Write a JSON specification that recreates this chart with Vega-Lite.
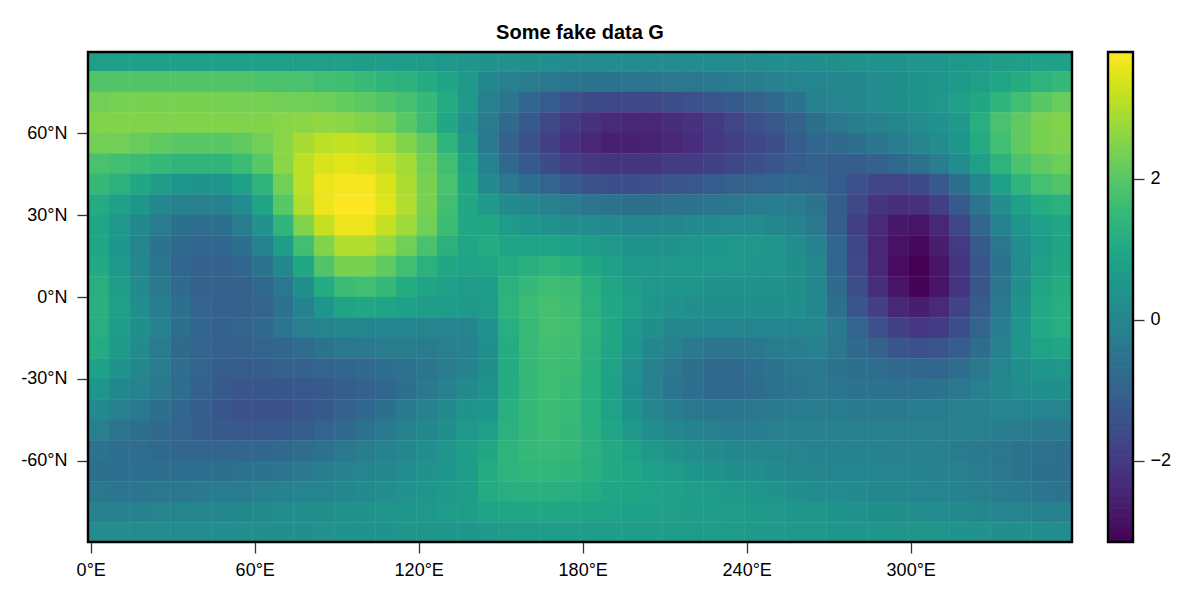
{"$schema":"https://vega.github.io/schema/vega-lite/v6.json","autosize":{"type":"pad"},"padding":{"left":20,"top":22,"right":29,"bottom":20},"background":"white","config":{"font":"Liberation Sans","view":{"stroke":null}},"spacing":32,"hconcat":[{"title":{"text":"Some fake data G","font":"Liberation Sans","fontSize":20,"fontWeight":"bold","color":"black","anchor":"middle","offset":8},"width":984,"height":490,"layer":[{"data":{"values":[
{"x":3,"y":86.25,"v":0.75},{"x":10.5,"y":86.25,"v":0.8},{"x":18,"y":86.25,"v":0.8},{"x":25.5,"y":86.25,"v":0.8},{"x":33,"y":86.25,"v":0.8},{"x":40.5,"y":86.25,"v":0.8},{"x":48,"y":86.25,"v":0.8},{"x":55.5,"y":86.25,"v":0.8},{"x":63,"y":86.25,"v":0.8},{"x":70.5,"y":86.25,"v":0.8},{"x":78,"y":86.25,"v":0.75},{"x":85.5,"y":86.25,"v":0.75},{"x":93,"y":86.25,"v":0.75},{"x":100.5,"y":86.25,"v":0.7},{"x":108,"y":86.25,"v":0.7},{"x":115.5,"y":86.25,"v":0.65},{"x":123,"y":86.25,"v":0.65},{"x":130.5,"y":86.25,"v":0.55},{"x":138,"y":86.25,"v":0.45},{"x":145.5,"y":86.25,"v":0.4},{"x":153,"y":86.25,"v":0.35},{"x":160.5,"y":86.25,"v":0.3},{"x":168,"y":86.25,"v":0.25},{"x":175.5,"y":86.25,"v":0.2},{"x":183,"y":86.25,"v":0.2},{"x":190.5,"y":86.25,"v":0.2},{"x":198,"y":86.25,"v":0.2},{"x":205.5,"y":86.25,"v":0.2},{"x":213,"y":86.25,"v":0.2},{"x":220.5,"y":86.25,"v":0.2},{"x":228,"y":86.25,"v":0.2},{"x":235.5,"y":86.25,"v":0.2},{"x":243,"y":86.25,"v":0.2},{"x":250.5,"y":86.25,"v":0.25},{"x":258,"y":86.25,"v":0.25},{"x":265.5,"y":86.25,"v":0.25},{"x":273,"y":86.25,"v":0.3},{"x":280.5,"y":86.25,"v":0.35},{"x":288,"y":86.25,"v":0.35},{"x":295.5,"y":86.25,"v":0.4},{"x":303,"y":86.25,"v":0.45},{"x":310.5,"y":86.25,"v":0.5},{"x":318,"y":86.25,"v":0.55},{"x":325.5,"y":86.25,"v":0.6},{"x":333,"y":86.25,"v":0.7},{"x":340.5,"y":86.25,"v":0.75},{"x":348,"y":86.25,"v":0.8},{"x":355.5,"y":86.25,"v":0.8},
{"x":3,"y":78.75,"v":1.9},{"x":10.5,"y":78.75,"v":1.9},{"x":18,"y":78.75,"v":1.9},{"x":25.5,"y":78.75,"v":1.9},{"x":33,"y":78.75,"v":1.9},{"x":40.5,"y":78.75,"v":1.9},{"x":48,"y":78.75,"v":1.9},{"x":55.5,"y":78.75,"v":1.9},{"x":63,"y":78.75,"v":1.85},{"x":70.5,"y":78.75,"v":1.8},{"x":78,"y":78.75,"v":1.8},{"x":85.5,"y":78.75,"v":1.7},{"x":93,"y":78.75,"v":1.65},{"x":100.5,"y":78.75,"v":1.55},{"x":108,"y":78.75,"v":1.4},{"x":115.5,"y":78.75,"v":1.3},{"x":123,"y":78.75,"v":1.1},{"x":130.5,"y":78.75,"v":0.9},{"x":138,"y":78.75,"v":0.6},{"x":145.5,"y":78.75,"v":0.1},{"x":153,"y":78.75,"v":-0.2},{"x":160.5,"y":78.75,"v":-0.3},{"x":168,"y":78.75,"v":-0.4},{"x":175.5,"y":78.75,"v":-0.45},{"x":183,"y":78.75,"v":-0.5},{"x":190.5,"y":78.75,"v":-0.5},{"x":198,"y":78.75,"v":-0.45},{"x":205.5,"y":78.75,"v":-0.45},{"x":213,"y":78.75,"v":-0.4},{"x":220.5,"y":78.75,"v":-0.4},{"x":228,"y":78.75,"v":-0.35},{"x":235.5,"y":78.75,"v":-0.3},{"x":243,"y":78.75,"v":-0.25},{"x":250.5,"y":78.75,"v":-0.15},{"x":258,"y":78.75,"v":-0.05},{"x":265.5,"y":78.75,"v":0},{"x":273,"y":78.75,"v":0.05},{"x":280.5,"y":78.75,"v":0.1},{"x":288,"y":78.75,"v":0.2},{"x":295.5,"y":78.75,"v":0.3},{"x":303,"y":78.75,"v":0.4},{"x":310.5,"y":78.75,"v":0.5},{"x":318,"y":78.75,"v":0.6},{"x":325.5,"y":78.75,"v":0.75},{"x":333,"y":78.75,"v":0.95},{"x":340.5,"y":78.75,"v":1.15},{"x":348,"y":78.75,"v":1.35},{"x":355.5,"y":78.75,"v":1.5},
{"x":3,"y":71.25,"v":2.3},{"x":10.5,"y":71.25,"v":2.35},{"x":18,"y":71.25,"v":2.4},{"x":25.5,"y":71.25,"v":2.4},{"x":33,"y":71.25,"v":2.4},{"x":40.5,"y":71.25,"v":2.4},{"x":48,"y":71.25,"v":2.35},{"x":55.5,"y":71.25,"v":2.35},{"x":63,"y":71.25,"v":2.35},{"x":70.5,"y":71.25,"v":2.3},{"x":78,"y":71.25,"v":2.3},{"x":85.5,"y":71.25,"v":2.25},{"x":93,"y":71.25,"v":2.15},{"x":100.5,"y":71.25,"v":2.05},{"x":108,"y":71.25,"v":1.9},{"x":115.5,"y":71.25,"v":1.75},{"x":123,"y":71.25,"v":1.5},{"x":130.5,"y":71.25,"v":1.1},{"x":138,"y":71.25,"v":0.6},{"x":145.5,"y":71.25,"v":-0.2},{"x":153,"y":71.25,"v":-0.45},{"x":160.5,"y":71.25,"v":-0.85},{"x":168,"y":71.25,"v":-1.15},{"x":175.5,"y":71.25,"v":-1.45},{"x":183,"y":71.25,"v":-1.6},{"x":190.5,"y":71.25,"v":-1.65},{"x":198,"y":71.25,"v":-1.65},{"x":205.5,"y":71.25,"v":-1.65},{"x":213,"y":71.25,"v":-1.55},{"x":220.5,"y":71.25,"v":-1.45},{"x":228,"y":71.25,"v":-1.35},{"x":235.5,"y":71.25,"v":-1.2},{"x":243,"y":71.25,"v":-1},{"x":250.5,"y":71.25,"v":-0.8},{"x":258,"y":71.25,"v":-0.5},{"x":265.5,"y":71.25,"v":-0.15},{"x":273,"y":71.25,"v":-0.05},{"x":280.5,"y":71.25,"v":0.05},{"x":288,"y":71.25,"v":0.2},{"x":295.5,"y":71.25,"v":0.3},{"x":303,"y":71.25,"v":0.4},{"x":310.5,"y":71.25,"v":0.55},{"x":318,"y":71.25,"v":0.75},{"x":325.5,"y":71.25,"v":1},{"x":333,"y":71.25,"v":1.4},{"x":340.5,"y":71.25,"v":1.7},{"x":348,"y":71.25,"v":2},{"x":355.5,"y":71.25,"v":2.2},
{"x":3,"y":63.75,"v":2.5},{"x":10.5,"y":63.75,"v":2.5},{"x":18,"y":63.75,"v":2.5},{"x":25.5,"y":63.75,"v":2.5},{"x":33,"y":63.75,"v":2.5},{"x":40.5,"y":63.75,"v":2.5},{"x":48,"y":63.75,"v":2.5},{"x":55.5,"y":63.75,"v":2.5},{"x":63,"y":63.75,"v":2.5},{"x":70.5,"y":63.75,"v":2.55},{"x":78,"y":63.75,"v":2.6},{"x":85.5,"y":63.75,"v":2.65},{"x":93,"y":63.75,"v":2.6},{"x":100.5,"y":63.75,"v":2.5},{"x":108,"y":63.75,"v":2.35},{"x":115.5,"y":63.75,"v":2},{"x":123,"y":63.75,"v":1.6},{"x":130.5,"y":63.75,"v":1},{"x":138,"y":63.75,"v":0.35},{"x":145.5,"y":63.75,"v":-0.3},{"x":153,"y":63.75,"v":-0.75},{"x":160.5,"y":63.75,"v":-1.2},{"x":168,"y":63.75,"v":-1.65},{"x":175.5,"y":63.75,"v":-2},{"x":183,"y":63.75,"v":-2.2},{"x":190.5,"y":63.75,"v":-2.35},{"x":198,"y":63.75,"v":-2.4},{"x":205.5,"y":63.75,"v":-2.4},{"x":213,"y":63.75,"v":-2.3},{"x":220.5,"y":63.75,"v":-2.15},{"x":228,"y":63.75,"v":-2},{"x":235.5,"y":63.75,"v":-1.75},{"x":243,"y":63.75,"v":-1.45},{"x":250.5,"y":63.75,"v":-1.25},{"x":258,"y":63.75,"v":-1},{"x":265.5,"y":63.75,"v":-0.6},{"x":273,"y":63.75,"v":-0.4},{"x":280.5,"y":63.75,"v":-0.25},{"x":288,"y":63.75,"v":-0.1},{"x":295.5,"y":63.75,"v":0.05},{"x":303,"y":63.75,"v":0.2},{"x":310.5,"y":63.75,"v":0.35},{"x":318,"y":63.75,"v":0.6},{"x":325.5,"y":63.75,"v":1.2},{"x":333,"y":63.75,"v":1.8},{"x":340.5,"y":63.75,"v":2.1},{"x":348,"y":63.75,"v":2.4},{"x":355.5,"y":63.75,"v":2.5},
{"x":3,"y":56.25,"v":2.3},{"x":10.5,"y":56.25,"v":2.3},{"x":18,"y":56.25,"v":2.2},{"x":25.5,"y":56.25,"v":2.1},{"x":33,"y":56.25,"v":2},{"x":40.5,"y":56.25,"v":2},{"x":48,"y":56.25,"v":2},{"x":55.5,"y":56.25,"v":2.1},{"x":63,"y":56.25,"v":2.3},{"x":70.5,"y":56.25,"v":2.6},{"x":78,"y":56.25,"v":2.9},{"x":85.5,"y":56.25,"v":3.1},{"x":93,"y":56.25,"v":3.2},{"x":100.5,"y":56.25,"v":3.1},{"x":108,"y":56.25,"v":2.85},{"x":115.5,"y":56.25,"v":2.5},{"x":123,"y":56.25,"v":2.1},{"x":130.5,"y":56.25,"v":1.4},{"x":138,"y":56.25,"v":0.6},{"x":145.5,"y":56.25,"v":-0.35},{"x":153,"y":56.25,"v":-1},{"x":160.5,"y":56.25,"v":-1.45},{"x":168,"y":56.25,"v":-1.85},{"x":175.5,"y":56.25,"v":-2.2},{"x":183,"y":56.25,"v":-2.4},{"x":190.5,"y":56.25,"v":-2.55},{"x":198,"y":56.25,"v":-2.55},{"x":205.5,"y":56.25,"v":-2.5},{"x":213,"y":56.25,"v":-2.4},{"x":220.5,"y":56.25,"v":-2.25},{"x":228,"y":56.25,"v":-2.05},{"x":235.5,"y":56.25,"v":-1.9},{"x":243,"y":56.25,"v":-1.7},{"x":250.5,"y":56.25,"v":-1.5},{"x":258,"y":56.25,"v":-1.15},{"x":265.5,"y":56.25,"v":-0.85},{"x":273,"y":56.25,"v":-0.75},{"x":280.5,"y":56.25,"v":-0.6},{"x":288,"y":56.25,"v":-0.45},{"x":295.5,"y":56.25,"v":-0.25},{"x":303,"y":56.25,"v":-0.05},{"x":310.5,"y":56.25,"v":0.2},{"x":318,"y":56.25,"v":0.5},{"x":325.5,"y":56.25,"v":1.1},{"x":333,"y":56.25,"v":1.7},{"x":340.5,"y":56.25,"v":2.1},{"x":348,"y":56.25,"v":2.4},{"x":355.5,"y":56.25,"v":2.45},
{"x":3,"y":48.75,"v":1.8},{"x":10.5,"y":48.75,"v":1.7},{"x":18,"y":48.75,"v":1.6},{"x":25.5,"y":48.75,"v":1.5},{"x":33,"y":48.75,"v":1.4},{"x":40.5,"y":48.75,"v":1.4},{"x":48,"y":48.75,"v":1.4},{"x":55.5,"y":48.75,"v":1.6},{"x":63,"y":48.75,"v":2},{"x":70.5,"y":48.75,"v":2.6},{"x":78,"y":48.75,"v":3.1},{"x":85.5,"y":48.75,"v":3.4},{"x":93,"y":48.75,"v":3.5},{"x":100.5,"y":48.75,"v":3.4},{"x":108,"y":48.75,"v":3.2},{"x":115.5,"y":48.75,"v":2.85},{"x":123,"y":48.75,"v":2.3},{"x":130.5,"y":48.75,"v":1.7},{"x":138,"y":48.75,"v":0.85},{"x":145.5,"y":48.75,"v":-0.1},{"x":153,"y":48.75,"v":-0.8},{"x":160.5,"y":48.75,"v":-1.2},{"x":168,"y":48.75,"v":-1.6},{"x":175.5,"y":48.75,"v":-1.9},{"x":183,"y":48.75,"v":-2.05},{"x":190.5,"y":48.75,"v":-2.1},{"x":198,"y":48.75,"v":-2.1},{"x":205.5,"y":48.75,"v":-2.1},{"x":213,"y":48.75,"v":-2},{"x":220.5,"y":48.75,"v":-1.95},{"x":228,"y":48.75,"v":-1.85},{"x":235.5,"y":48.75,"v":-1.7},{"x":243,"y":48.75,"v":-1.5},{"x":250.5,"y":48.75,"v":-1.3},{"x":258,"y":48.75,"v":-1.15},{"x":265.5,"y":48.75,"v":-1.05},{"x":273,"y":48.75,"v":-1.1},{"x":280.5,"y":48.75,"v":-1.1},{"x":288,"y":48.75,"v":-1},{"x":295.5,"y":48.75,"v":-0.8},{"x":303,"y":48.75,"v":-0.55},{"x":310.5,"y":48.75,"v":-0.25},{"x":318,"y":48.75,"v":0.2},{"x":325.5,"y":48.75,"v":0.75},{"x":333,"y":48.75,"v":1.35},{"x":340.5,"y":48.75,"v":1.85},{"x":348,"y":48.75,"v":2.1},{"x":355.5,"y":48.75,"v":2.25},
{"x":3,"y":41.25,"v":1.5},{"x":10.5,"y":41.25,"v":1.3},{"x":18,"y":41.25,"v":1},{"x":25.5,"y":41.25,"v":0.7},{"x":33,"y":41.25,"v":0.5},{"x":40.5,"y":41.25,"v":0.4},{"x":48,"y":41.25,"v":0.5},{"x":55.5,"y":41.25,"v":0.8},{"x":63,"y":41.25,"v":1.4},{"x":70.5,"y":41.25,"v":2.3},{"x":78,"y":41.25,"v":3.1},{"x":85.5,"y":41.25,"v":3.6},{"x":93,"y":41.25,"v":3.7},{"x":100.5,"y":41.25,"v":3.7},{"x":108,"y":41.25,"v":3.4},{"x":115.5,"y":41.25,"v":2.95},{"x":123,"y":41.25,"v":2.4},{"x":130.5,"y":41.25,"v":1.8},{"x":138,"y":41.25,"v":1},{"x":145.5,"y":41.25,"v":0.15},{"x":153,"y":41.25,"v":-0.35},{"x":160.5,"y":41.25,"v":-0.65},{"x":168,"y":41.25,"v":-0.95},{"x":175.5,"y":41.25,"v":-1.2},{"x":183,"y":41.25,"v":-1.4},{"x":190.5,"y":41.25,"v":-1.5},{"x":198,"y":41.25,"v":-1.5},{"x":205.5,"y":41.25,"v":-1.45},{"x":213,"y":41.25,"v":-1.35},{"x":220.5,"y":41.25,"v":-1.25},{"x":228,"y":41.25,"v":-1.15},{"x":235.5,"y":41.25,"v":-1.05},{"x":243,"y":41.25,"v":-0.95},{"x":250.5,"y":41.25,"v":-0.85},{"x":258,"y":41.25,"v":-0.8},{"x":265.5,"y":41.25,"v":-0.85},{"x":273,"y":41.25,"v":-1.15},{"x":280.5,"y":41.25,"v":-1.45},{"x":288,"y":41.25,"v":-1.7},{"x":295.5,"y":41.25,"v":-1.75},{"x":303,"y":41.25,"v":-1.6},{"x":310.5,"y":41.25,"v":-1.2},{"x":318,"y":41.25,"v":-0.6},{"x":325.5,"y":41.25,"v":0.05},{"x":333,"y":41.25,"v":0.8},{"x":340.5,"y":41.25,"v":1.4},{"x":348,"y":41.25,"v":1.75},{"x":355.5,"y":41.25,"v":1.9},
{"x":3,"y":33.75,"v":1.1},{"x":10.5,"y":33.75,"v":0.8},{"x":18,"y":33.75,"v":0.5},{"x":25.5,"y":33.75,"v":0.1},{"x":33,"y":33.75,"v":-0.1},{"x":40.5,"y":33.75,"v":-0.2},{"x":48,"y":33.75,"v":-0.1},{"x":55.5,"y":33.75,"v":0.2},{"x":63,"y":33.75,"v":0.9},{"x":70.5,"y":33.75,"v":2},{"x":78,"y":33.75,"v":3},{"x":85.5,"y":33.75,"v":3.6},{"x":93,"y":33.75,"v":3.8},{"x":100.5,"y":33.75,"v":3.8},{"x":108,"y":33.75,"v":3.5},{"x":115.5,"y":33.75,"v":3},{"x":123,"y":33.75,"v":2.4},{"x":130.5,"y":33.75,"v":1.7},{"x":138,"y":33.75,"v":1},{"x":145.5,"y":33.75,"v":0.6},{"x":153,"y":33.75,"v":0.15},{"x":160.5,"y":33.75,"v":0.05},{"x":168,"y":33.75,"v":-0.15},{"x":175.5,"y":33.75,"v":-0.3},{"x":183,"y":33.75,"v":-0.45},{"x":190.5,"y":33.75,"v":-0.55},{"x":198,"y":33.75,"v":-0.6},{"x":205.5,"y":33.75,"v":-0.6},{"x":213,"y":33.75,"v":-0.55},{"x":220.5,"y":33.75,"v":-0.5},{"x":228,"y":33.75,"v":-0.45},{"x":235.5,"y":33.75,"v":-0.4},{"x":243,"y":33.75,"v":-0.3},{"x":250.5,"y":33.75,"v":-0.25},{"x":258,"y":33.75,"v":-0.3},{"x":265.5,"y":33.75,"v":-0.5},{"x":273,"y":33.75,"v":-1.1},{"x":280.5,"y":33.75,"v":-1.65},{"x":288,"y":33.75,"v":-2.1},{"x":295.5,"y":33.75,"v":-2.25},{"x":303,"y":33.75,"v":-2.2},{"x":310.5,"y":33.75,"v":-1.85},{"x":318,"y":33.75,"v":-1.2},{"x":325.5,"y":33.75,"v":-0.45},{"x":333,"y":33.75,"v":0.25},{"x":340.5,"y":33.75,"v":0.8},{"x":348,"y":33.75,"v":1.15},{"x":355.5,"y":33.75,"v":1.3},
{"x":3,"y":26.25,"v":0.95},{"x":10.5,"y":26.25,"v":0.55},{"x":18,"y":26.25,"v":0.1},{"x":25.5,"y":26.25,"v":-0.3},{"x":33,"y":26.25,"v":-0.6},{"x":40.5,"y":26.25,"v":-0.7},{"x":48,"y":26.25,"v":-0.6},{"x":55.5,"y":26.25,"v":-0.3},{"x":63,"y":26.25,"v":0.35},{"x":70.5,"y":26.25,"v":1.4},{"x":78,"y":26.25,"v":2.5},{"x":85.5,"y":26.25,"v":3.2},{"x":93,"y":26.25,"v":3.6},{"x":100.5,"y":26.25,"v":3.6},{"x":108,"y":26.25,"v":3.2},{"x":115.5,"y":26.25,"v":2.8},{"x":123,"y":26.25,"v":2.3},{"x":130.5,"y":26.25,"v":1.6},{"x":138,"y":26.25,"v":1},{"x":145.5,"y":26.25,"v":1},{"x":153,"y":26.25,"v":0.65},{"x":160.5,"y":26.25,"v":0.5},{"x":168,"y":26.25,"v":0.35},{"x":175.5,"y":26.25,"v":0.25},{"x":183,"y":26.25,"v":0.2},{"x":190.5,"y":26.25,"v":0.15},{"x":198,"y":26.25,"v":0.1},{"x":205.5,"y":26.25,"v":0.1},{"x":213,"y":26.25,"v":0.1},{"x":220.5,"y":26.25,"v":0.15},{"x":228,"y":26.25,"v":0.15},{"x":235.5,"y":26.25,"v":0.2},{"x":243,"y":26.25,"v":0.2},{"x":250.5,"y":26.25,"v":0.1},{"x":258,"y":26.25,"v":-0.1},{"x":265.5,"y":26.25,"v":-0.35},{"x":273,"y":26.25,"v":-1.1},{"x":280.5,"y":26.25,"v":-1.85},{"x":288,"y":26.25,"v":-2.35},{"x":295.5,"y":26.25,"v":-2.7},{"x":303,"y":26.25,"v":-2.8},{"x":310.5,"y":26.25,"v":-2.4},{"x":318,"y":26.25,"v":-1.7},{"x":325.5,"y":26.25,"v":-0.9},{"x":333,"y":26.25,"v":-0.1},{"x":340.5,"y":26.25,"v":0.45},{"x":348,"y":26.25,"v":0.8},{"x":355.5,"y":26.25,"v":1},
{"x":3,"y":18.75,"v":0.95},{"x":10.5,"y":18.75,"v":0.5},{"x":18,"y":18.75,"v":0},{"x":25.5,"y":18.75,"v":-0.5},{"x":33,"y":18.75,"v":-0.8},{"x":40.5,"y":18.75,"v":-0.9},{"x":48,"y":18.75,"v":-0.85},{"x":55.5,"y":18.75,"v":-0.6},{"x":63,"y":18.75,"v":-0.1},{"x":70.5,"y":18.75,"v":0.7},{"x":78,"y":18.75,"v":1.7},{"x":85.5,"y":18.75,"v":2.5},{"x":93,"y":18.75,"v":3},{"x":100.5,"y":18.75,"v":3},{"x":108,"y":18.75,"v":2.7},{"x":115.5,"y":18.75,"v":2.3},{"x":123,"y":18.75,"v":1.8},{"x":130.5,"y":18.75,"v":1.3},{"x":138,"y":18.75,"v":0.95},{"x":145.5,"y":18.75,"v":1.1},{"x":153,"y":18.75,"v":0.9},{"x":160.5,"y":18.75,"v":0.85},{"x":168,"y":18.75,"v":0.85},{"x":175.5,"y":18.75,"v":0.8},{"x":183,"y":18.75,"v":0.65},{"x":190.5,"y":18.75,"v":0.55},{"x":198,"y":18.75,"v":0.4},{"x":205.5,"y":18.75,"v":0.4},{"x":213,"y":18.75,"v":0.4},{"x":220.5,"y":18.75,"v":0.45},{"x":228,"y":18.75,"v":0.5},{"x":235.5,"y":18.75,"v":0.55},{"x":243,"y":18.75,"v":0.55},{"x":250.5,"y":18.75,"v":0.45},{"x":258,"y":18.75,"v":0.2},{"x":265.5,"y":18.75,"v":-0.1},{"x":273,"y":18.75,"v":-0.9},{"x":280.5,"y":18.75,"v":-1.7},{"x":288,"y":18.75,"v":-2.4},{"x":295.5,"y":18.75,"v":-2.85},{"x":303,"y":18.75,"v":-3},{"x":310.5,"y":18.75,"v":-2.6},{"x":318,"y":18.75,"v":-2},{"x":325.5,"y":18.75,"v":-1.2},{"x":333,"y":18.75,"v":-0.4},{"x":340.5,"y":18.75,"v":0.25},{"x":348,"y":18.75,"v":0.65},{"x":355.5,"y":18.75,"v":0.9},
{"x":3,"y":11.25,"v":1.05},{"x":10.5,"y":11.25,"v":0.55},{"x":18,"y":11.25,"v":0.05},{"x":25.5,"y":11.25,"v":-0.45},{"x":33,"y":11.25,"v":-0.85},{"x":40.5,"y":11.25,"v":-1},{"x":48,"y":11.25,"v":-1},{"x":55.5,"y":11.25,"v":-0.85},{"x":63,"y":11.25,"v":-0.5},{"x":70.5,"y":11.25,"v":0.1},{"x":78,"y":11.25,"v":1},{"x":85.5,"y":11.25,"v":1.9},{"x":93,"y":11.25,"v":2.4},{"x":100.5,"y":11.25,"v":2.4},{"x":108,"y":11.25,"v":2.1},{"x":115.5,"y":11.25,"v":1.7},{"x":123,"y":11.25,"v":1.3},{"x":130.5,"y":11.25,"v":1},{"x":138,"y":11.25,"v":0.85},{"x":145.5,"y":11.25,"v":0.95},{"x":153,"y":11.25,"v":1.1},{"x":160.5,"y":11.25,"v":1.25},{"x":168,"y":11.25,"v":1.35},{"x":175.5,"y":11.25,"v":1.25},{"x":183,"y":11.25,"v":1},{"x":190.5,"y":11.25,"v":0.8},{"x":198,"y":11.25,"v":0.6},{"x":205.5,"y":11.25,"v":0.55},{"x":213,"y":11.25,"v":0.55},{"x":220.5,"y":11.25,"v":0.55},{"x":228,"y":11.25,"v":0.55},{"x":235.5,"y":11.25,"v":0.55},{"x":243,"y":11.25,"v":0.5},{"x":250.5,"y":11.25,"v":0.45},{"x":258,"y":11.25,"v":0.3},{"x":265.5,"y":11.25,"v":0.05},{"x":273,"y":11.25,"v":-0.85},{"x":280.5,"y":11.25,"v":-1.65},{"x":288,"y":11.25,"v":-2.4},{"x":295.5,"y":11.25,"v":-2.95},{"x":303,"y":11.25,"v":-3.15},{"x":310.5,"y":11.25,"v":-2.8},{"x":318,"y":11.25,"v":-2.1},{"x":325.5,"y":11.25,"v":-1.3},{"x":333,"y":11.25,"v":-0.5},{"x":340.5,"y":11.25,"v":0.2},{"x":348,"y":11.25,"v":0.75},{"x":355.5,"y":11.25,"v":1},
{"x":3,"y":3.75,"v":1.2},{"x":10.5,"y":3.75,"v":0.7},{"x":18,"y":3.75,"v":0.15},{"x":25.5,"y":3.75,"v":-0.35},{"x":33,"y":3.75,"v":-0.75},{"x":40.5,"y":3.75,"v":-1},{"x":48,"y":3.75,"v":-1.05},{"x":55.5,"y":3.75,"v":-1},{"x":63,"y":3.75,"v":-0.8},{"x":70.5,"y":3.75,"v":-0.4},{"x":78,"y":3.75,"v":0.3},{"x":85.5,"y":3.75,"v":1.1},{"x":93,"y":3.75,"v":1.6},{"x":100.5,"y":3.75,"v":1.7},{"x":108,"y":3.75,"v":1.5},{"x":115.5,"y":3.75,"v":1.15},{"x":123,"y":3.75,"v":0.9},{"x":130.5,"y":3.75,"v":0.75},{"x":138,"y":3.75,"v":0.65},{"x":145.5,"y":3.75,"v":0.7},{"x":153,"y":3.75,"v":1.3},{"x":160.5,"y":3.75,"v":1.5},{"x":168,"y":3.75,"v":1.65},{"x":175.5,"y":3.75,"v":1.6},{"x":183,"y":3.75,"v":1.25},{"x":190.5,"y":3.75,"v":0.95},{"x":198,"y":3.75,"v":0.7},{"x":205.5,"y":3.75,"v":0.55},{"x":213,"y":3.75,"v":0.5},{"x":220.5,"y":3.75,"v":0.45},{"x":228,"y":3.75,"v":0.4},{"x":235.5,"y":3.75,"v":0.4},{"x":243,"y":3.75,"v":0.4},{"x":250.5,"y":3.75,"v":0.4},{"x":258,"y":3.75,"v":0.3},{"x":265.5,"y":3.75,"v":0.1},{"x":273,"y":3.75,"v":-0.75},{"x":280.5,"y":3.75,"v":-1.55},{"x":288,"y":3.75,"v":-2.25},{"x":295.5,"y":3.75,"v":-2.8},{"x":303,"y":3.75,"v":-3.1},{"x":310.5,"y":3.75,"v":-2.8},{"x":318,"y":3.75,"v":-2.1},{"x":325.5,"y":3.75,"v":-1.3},{"x":333,"y":3.75,"v":-0.45},{"x":340.5,"y":3.75,"v":0.3},{"x":348,"y":3.75,"v":0.95},{"x":355.5,"y":3.75,"v":1.15},
{"x":3,"y":-3.75,"v":1.25},{"x":10.5,"y":-3.75,"v":0.75},{"x":18,"y":-3.75,"v":0.25},{"x":25.5,"y":-3.75,"v":-0.25},{"x":33,"y":-3.75,"v":-0.65},{"x":40.5,"y":-3.75,"v":-0.95},{"x":48,"y":-3.75,"v":-1.05},{"x":55.5,"y":-3.75,"v":-1.05},{"x":63,"y":-3.75,"v":-0.95},{"x":70.5,"y":-3.75,"v":-0.55},{"x":78,"y":-3.75,"v":-0.1},{"x":85.5,"y":-3.75,"v":0.5},{"x":93,"y":-3.75,"v":0.9},{"x":100.5,"y":-3.75,"v":1},{"x":108,"y":-3.75,"v":0.9},{"x":115.5,"y":-3.75,"v":0.8},{"x":123,"y":-3.75,"v":0.7},{"x":130.5,"y":-3.75,"v":0.65},{"x":138,"y":-3.75,"v":0.6},{"x":145.5,"y":-3.75,"v":0.65},{"x":153,"y":-3.75,"v":1.35},{"x":160.5,"y":-3.75,"v":1.6},{"x":168,"y":-3.75,"v":1.75},{"x":175.5,"y":-3.75,"v":1.65},{"x":183,"y":-3.75,"v":1.3},{"x":190.5,"y":-3.75,"v":1},{"x":198,"y":-3.75,"v":0.75},{"x":205.5,"y":-3.75,"v":0.5},{"x":213,"y":-3.75,"v":0.35},{"x":220.5,"y":-3.75,"v":0.3},{"x":228,"y":-3.75,"v":0.3},{"x":235.5,"y":-3.75,"v":0.3},{"x":243,"y":-3.75,"v":0.3},{"x":250.5,"y":-3.75,"v":0.3},{"x":258,"y":-3.75,"v":0.3},{"x":265.5,"y":-3.75,"v":0.1},{"x":273,"y":-3.75,"v":-0.6},{"x":280.5,"y":-3.75,"v":-1.3},{"x":288,"y":-3.75,"v":-1.9},{"x":295.5,"y":-3.75,"v":-2.4},{"x":303,"y":-3.75,"v":-2.6},{"x":310.5,"y":-3.75,"v":-2.35},{"x":318,"y":-3.75,"v":-1.8},{"x":325.5,"y":-3.75,"v":-1.15},{"x":333,"y":-3.75,"v":-0.35},{"x":340.5,"y":-3.75,"v":0.4},{"x":348,"y":-3.75,"v":1.05},{"x":355.5,"y":-3.75,"v":1.2},
{"x":3,"y":-11.25,"v":1.2},{"x":10.5,"y":-11.25,"v":0.7},{"x":18,"y":-11.25,"v":0.3},{"x":25.5,"y":-11.25,"v":-0.1},{"x":33,"y":-11.25,"v":-0.6},{"x":40.5,"y":-11.25,"v":-0.9},{"x":48,"y":-11.25,"v":-1},{"x":55.5,"y":-11.25,"v":-0.95},{"x":63,"y":-11.25,"v":-0.75},{"x":70.5,"y":-11.25,"v":-0.45},{"x":78,"y":-11.25,"v":-0.2},{"x":85.5,"y":-11.25,"v":0},{"x":93,"y":-11.25,"v":0.05},{"x":100.5,"y":-11.25,"v":0},{"x":108,"y":-11.25,"v":0},{"x":115.5,"y":-11.25,"v":0},{"x":123,"y":-11.25,"v":0},{"x":130.5,"y":-11.25,"v":-0.05},{"x":138,"y":-11.25,"v":0},{"x":145.5,"y":-11.25,"v":0.35},{"x":153,"y":-11.25,"v":1.2},{"x":160.5,"y":-11.25,"v":1.55},{"x":168,"y":-11.25,"v":1.75},{"x":175.5,"y":-11.25,"v":1.7},{"x":183,"y":-11.25,"v":1.35},{"x":190.5,"y":-11.25,"v":1},{"x":198,"y":-11.25,"v":0.6},{"x":205.5,"y":-11.25,"v":0.3},{"x":213,"y":-11.25,"v":0.1},{"x":220.5,"y":-11.25,"v":0.05},{"x":228,"y":-11.25,"v":0},{"x":235.5,"y":-11.25,"v":0},{"x":243,"y":-11.25,"v":0},{"x":250.5,"y":-11.25,"v":0},{"x":258,"y":-11.25,"v":0},{"x":265.5,"y":-11.25,"v":0.05},{"x":273,"y":-11.25,"v":-0.35},{"x":280.5,"y":-11.25,"v":-0.95},{"x":288,"y":-11.25,"v":-1.45},{"x":295.5,"y":-11.25,"v":-1.85},{"x":303,"y":-11.25,"v":-2.05},{"x":310.5,"y":-11.25,"v":-1.95},{"x":318,"y":-11.25,"v":-1.5},{"x":325.5,"y":-11.25,"v":-0.95},{"x":333,"y":-11.25,"v":-0.25},{"x":340.5,"y":-11.25,"v":0.45},{"x":348,"y":-11.25,"v":1.05},{"x":355.5,"y":-11.25,"v":1.2},
{"x":3,"y":-18.75,"v":1.1},{"x":10.5,"y":-18.75,"v":0.6},{"x":18,"y":-18.75,"v":0.15},{"x":25.5,"y":-18.75,"v":-0.3},{"x":33,"y":-18.75,"v":-0.75},{"x":40.5,"y":-18.75,"v":-0.95},{"x":48,"y":-18.75,"v":-1},{"x":55.5,"y":-18.75,"v":-1},{"x":63,"y":-18.75,"v":-0.95},{"x":70.5,"y":-18.75,"v":-0.85},{"x":78,"y":-18.75,"v":-0.7},{"x":85.5,"y":-18.75,"v":-0.5},{"x":93,"y":-18.75,"v":-0.4},{"x":100.5,"y":-18.75,"v":-0.35},{"x":108,"y":-18.75,"v":-0.3},{"x":115.5,"y":-18.75,"v":-0.3},{"x":123,"y":-18.75,"v":-0.3},{"x":130.5,"y":-18.75,"v":-0.2},{"x":138,"y":-18.75,"v":-0.1},{"x":145.5,"y":-18.75,"v":0.3},{"x":153,"y":-18.75,"v":1.15},{"x":160.5,"y":-18.75,"v":1.55},{"x":168,"y":-18.75,"v":1.7},{"x":175.5,"y":-18.75,"v":1.65},{"x":183,"y":-18.75,"v":1.3},{"x":190.5,"y":-18.75,"v":0.95},{"x":198,"y":-18.75,"v":0.5},{"x":205.5,"y":-18.75,"v":0.1},{"x":213,"y":-18.75,"v":-0.15},{"x":220.5,"y":-18.75,"v":-0.35},{"x":228,"y":-18.75,"v":-0.45},{"x":235.5,"y":-18.75,"v":-0.45},{"x":243,"y":-18.75,"v":-0.4},{"x":250.5,"y":-18.75,"v":-0.3},{"x":258,"y":-18.75,"v":-0.25},{"x":265.5,"y":-18.75,"v":-0.1},{"x":273,"y":-18.75,"v":-0.4},{"x":280.5,"y":-18.75,"v":-0.75},{"x":288,"y":-18.75,"v":-1.05},{"x":295.5,"y":-18.75,"v":-1.3},{"x":303,"y":-18.75,"v":-1.45},{"x":310.5,"y":-18.75,"v":-1.35},{"x":318,"y":-18.75,"v":-1.1},{"x":325.5,"y":-18.75,"v":-0.7},{"x":333,"y":-18.75,"v":-0.1},{"x":340.5,"y":-18.75,"v":0.45},{"x":348,"y":-18.75,"v":0.85},{"x":355.5,"y":-18.75,"v":0.95},
{"x":3,"y":-26.25,"v":0.8},{"x":10.5,"y":-26.25,"v":0.4},{"x":18,"y":-26.25,"v":0.05},{"x":25.5,"y":-26.25,"v":-0.3},{"x":33,"y":-26.25,"v":-0.7},{"x":40.5,"y":-26.25,"v":-0.95},{"x":48,"y":-26.25,"v":-1.1},{"x":55.5,"y":-26.25,"v":-1.15},{"x":63,"y":-26.25,"v":-1.1},{"x":70.5,"y":-26.25,"v":-1.05},{"x":78,"y":-26.25,"v":-1},{"x":85.5,"y":-26.25,"v":-0.95},{"x":93,"y":-26.25,"v":-0.85},{"x":100.5,"y":-26.25,"v":-0.75},{"x":108,"y":-26.25,"v":-0.65},{"x":115.5,"y":-26.25,"v":-0.55},{"x":123,"y":-26.25,"v":-0.45},{"x":130.5,"y":-26.25,"v":-0.3},{"x":138,"y":-26.25,"v":-0.1},{"x":145.5,"y":-26.25,"v":0.3},{"x":153,"y":-26.25,"v":1.1},{"x":160.5,"y":-26.25,"v":1.5},{"x":168,"y":-26.25,"v":1.65},{"x":175.5,"y":-26.25,"v":1.6},{"x":183,"y":-26.25,"v":1.25},{"x":190.5,"y":-26.25,"v":0.85},{"x":198,"y":-26.25,"v":0.35},{"x":205.5,"y":-26.25,"v":-0.1},{"x":213,"y":-26.25,"v":-0.4},{"x":220.5,"y":-26.25,"v":-0.6},{"x":228,"y":-26.25,"v":-0.75},{"x":235.5,"y":-26.25,"v":-0.75},{"x":243,"y":-26.25,"v":-0.65},{"x":250.5,"y":-26.25,"v":-0.5},{"x":258,"y":-26.25,"v":-0.4},{"x":265.5,"y":-26.25,"v":-0.35},{"x":273,"y":-26.25,"v":-0.5},{"x":280.5,"y":-26.25,"v":-0.6},{"x":288,"y":-26.25,"v":-0.7},{"x":295.5,"y":-26.25,"v":-0.8},{"x":303,"y":-26.25,"v":-0.85},{"x":310.5,"y":-26.25,"v":-0.85},{"x":318,"y":-26.25,"v":-0.7},{"x":325.5,"y":-26.25,"v":-0.35},{"x":333,"y":-26.25,"v":0},{"x":340.5,"y":-26.25,"v":0.3},{"x":348,"y":-26.25,"v":0.5},{"x":355.5,"y":-26.25,"v":0.55},
{"x":3,"y":-33.75,"v":0.5},{"x":10.5,"y":-33.75,"v":0.1},{"x":18,"y":-33.75,"v":-0.1},{"x":25.5,"y":-33.75,"v":-0.35},{"x":33,"y":-33.75,"v":-0.7},{"x":40.5,"y":-33.75,"v":-1},{"x":48,"y":-33.75,"v":-1.2},{"x":55.5,"y":-33.75,"v":-1.3},{"x":63,"y":-33.75,"v":-1.3},{"x":70.5,"y":-33.75,"v":-1.3},{"x":78,"y":-33.75,"v":-1.25},{"x":85.5,"y":-33.75,"v":-1.2},{"x":93,"y":-33.75,"v":-1.1},{"x":100.5,"y":-33.75,"v":-1},{"x":108,"y":-33.75,"v":-0.85},{"x":115.5,"y":-33.75,"v":-0.6},{"x":123,"y":-33.75,"v":-0.35},{"x":130.5,"y":-33.75,"v":-0.1},{"x":138,"y":-33.75,"v":0.15},{"x":145.5,"y":-33.75,"v":0.4},{"x":153,"y":-33.75,"v":1.15},{"x":160.5,"y":-33.75,"v":1.5},{"x":168,"y":-33.75,"v":1.65},{"x":175.5,"y":-33.75,"v":1.55},{"x":183,"y":-33.75,"v":1.25},{"x":190.5,"y":-33.75,"v":0.8},{"x":198,"y":-33.75,"v":0.3},{"x":205.5,"y":-33.75,"v":-0.15},{"x":213,"y":-33.75,"v":-0.45},{"x":220.5,"y":-33.75,"v":-0.65},{"x":228,"y":-33.75,"v":-0.8},{"x":235.5,"y":-33.75,"v":-0.8},{"x":243,"y":-33.75,"v":-0.7},{"x":250.5,"y":-33.75,"v":-0.55},{"x":258,"y":-33.75,"v":-0.45},{"x":265.5,"y":-33.75,"v":-0.4},{"x":273,"y":-33.75,"v":-0.45},{"x":280.5,"y":-33.75,"v":-0.5},{"x":288,"y":-33.75,"v":-0.55},{"x":295.5,"y":-33.75,"v":-0.55},{"x":303,"y":-33.75,"v":-0.55},{"x":310.5,"y":-33.75,"v":-0.5},{"x":318,"y":-33.75,"v":-0.4},{"x":325.5,"y":-33.75,"v":-0.2},{"x":333,"y":-33.75,"v":0.05},{"x":340.5,"y":-33.75,"v":0.2},{"x":348,"y":-33.75,"v":0.3},{"x":355.5,"y":-33.75,"v":0.3},
{"x":3,"y":-41.25,"v":0.15},{"x":10.5,"y":-41.25,"v":-0.15},{"x":18,"y":-41.25,"v":-0.35},{"x":25.5,"y":-41.25,"v":-0.6},{"x":33,"y":-41.25,"v":-0.85},{"x":40.5,"y":-41.25,"v":-1.1},{"x":48,"y":-41.25,"v":-1.3},{"x":55.5,"y":-41.25,"v":-1.4},{"x":63,"y":-41.25,"v":-1.4},{"x":70.5,"y":-41.25,"v":-1.4},{"x":78,"y":-41.25,"v":-1.3},{"x":85.5,"y":-41.25,"v":-1.2},{"x":93,"y":-41.25,"v":-1.05},{"x":100.5,"y":-41.25,"v":-0.85},{"x":108,"y":-41.25,"v":-0.6},{"x":115.5,"y":-41.25,"v":-0.35},{"x":123,"y":-41.25,"v":-0.1},{"x":130.5,"y":-41.25,"v":0.15},{"x":138,"y":-41.25,"v":0.4},{"x":145.5,"y":-41.25,"v":0.5},{"x":153,"y":-41.25,"v":1.25},{"x":160.5,"y":-41.25,"v":1.5},{"x":168,"y":-41.25,"v":1.6},{"x":175.5,"y":-41.25,"v":1.55},{"x":183,"y":-41.25,"v":1.25},{"x":190.5,"y":-41.25,"v":0.85},{"x":198,"y":-41.25,"v":0.4},{"x":205.5,"y":-41.25,"v":0},{"x":213,"y":-41.25,"v":-0.25},{"x":220.5,"y":-41.25,"v":-0.4},{"x":228,"y":-41.25,"v":-0.45},{"x":235.5,"y":-41.25,"v":-0.45},{"x":243,"y":-41.25,"v":-0.4},{"x":250.5,"y":-41.25,"v":-0.35},{"x":258,"y":-41.25,"v":-0.3},{"x":265.5,"y":-41.25,"v":-0.3},{"x":273,"y":-41.25,"v":-0.3},{"x":280.5,"y":-41.25,"v":-0.35},{"x":288,"y":-41.25,"v":-0.35},{"x":295.5,"y":-41.25,"v":-0.35},{"x":303,"y":-41.25,"v":-0.3},{"x":310.5,"y":-41.25,"v":-0.3},{"x":318,"y":-41.25,"v":-0.2},{"x":325.5,"y":-41.25,"v":-0.1},{"x":333,"y":-41.25,"v":-0.05},{"x":340.5,"y":-41.25,"v":0},{"x":348,"y":-41.25,"v":0},{"x":355.5,"y":-41.25,"v":-0.05},
{"x":3,"y":-48.75,"v":-0.2},{"x":10.5,"y":-48.75,"v":-0.45},{"x":18,"y":-48.75,"v":-0.6},{"x":25.5,"y":-48.75,"v":-0.75},{"x":33,"y":-48.75,"v":-0.95},{"x":40.5,"y":-48.75,"v":-1.1},{"x":48,"y":-48.75,"v":-1.2},{"x":55.5,"y":-48.75,"v":-1.25},{"x":63,"y":-48.75,"v":-1.25},{"x":70.5,"y":-48.75,"v":-1.2},{"x":78,"y":-48.75,"v":-1.1},{"x":85.5,"y":-48.75,"v":-0.95},{"x":93,"y":-48.75,"v":-0.75},{"x":100.5,"y":-48.75,"v":-0.55},{"x":108,"y":-48.75,"v":-0.35},{"x":115.5,"y":-48.75,"v":-0.1},{"x":123,"y":-48.75,"v":0.1},{"x":130.5,"y":-48.75,"v":0.3},{"x":138,"y":-48.75,"v":0.55},{"x":145.5,"y":-48.75,"v":0.75},{"x":153,"y":-48.75,"v":1.3},{"x":160.5,"y":-48.75,"v":1.5},{"x":168,"y":-48.75,"v":1.6},{"x":175.5,"y":-48.75,"v":1.5},{"x":183,"y":-48.75,"v":1.25},{"x":190.5,"y":-48.75,"v":0.95},{"x":198,"y":-48.75,"v":0.6},{"x":205.5,"y":-48.75,"v":0.25},{"x":213,"y":-48.75,"v":0.05},{"x":220.5,"y":-48.75,"v":-0.1},{"x":228,"y":-48.75,"v":-0.2},{"x":235.5,"y":-48.75,"v":-0.25},{"x":243,"y":-48.75,"v":-0.25},{"x":250.5,"y":-48.75,"v":-0.2},{"x":258,"y":-48.75,"v":-0.15},{"x":265.5,"y":-48.75,"v":-0.15},{"x":273,"y":-48.75,"v":-0.15},{"x":280.5,"y":-48.75,"v":-0.2},{"x":288,"y":-48.75,"v":-0.2},{"x":295.5,"y":-48.75,"v":-0.2},{"x":303,"y":-48.75,"v":-0.2},{"x":310.5,"y":-48.75,"v":-0.2},{"x":318,"y":-48.75,"v":-0.2},{"x":325.5,"y":-48.75,"v":-0.2},{"x":333,"y":-48.75,"v":-0.25},{"x":340.5,"y":-48.75,"v":-0.3},{"x":348,"y":-48.75,"v":-0.35},{"x":355.5,"y":-48.75,"v":-0.35},
{"x":3,"y":-56.25,"v":-0.5},{"x":10.5,"y":-56.25,"v":-0.65},{"x":18,"y":-56.25,"v":-0.7},{"x":25.5,"y":-56.25,"v":-0.8},{"x":33,"y":-56.25,"v":-0.85},{"x":40.5,"y":-56.25,"v":-0.95},{"x":48,"y":-56.25,"v":-0.95},{"x":55.5,"y":-56.25,"v":-0.9},{"x":63,"y":-56.25,"v":-0.85},{"x":70.5,"y":-56.25,"v":-0.8},{"x":78,"y":-56.25,"v":-0.7},{"x":85.5,"y":-56.25,"v":-0.55},{"x":93,"y":-56.25,"v":-0.4},{"x":100.5,"y":-56.25,"v":-0.25},{"x":108,"y":-56.25,"v":-0.1},{"x":115.5,"y":-56.25,"v":0.05},{"x":123,"y":-56.25,"v":0.25},{"x":130.5,"y":-56.25,"v":0.45},{"x":138,"y":-56.25,"v":0.7},{"x":145.5,"y":-56.25,"v":1},{"x":153,"y":-56.25,"v":1.35},{"x":160.5,"y":-56.25,"v":1.5},{"x":168,"y":-56.25,"v":1.55},{"x":175.5,"y":-56.25,"v":1.5},{"x":183,"y":-56.25,"v":1.3},{"x":190.5,"y":-56.25,"v":1.05},{"x":198,"y":-56.25,"v":0.85},{"x":205.5,"y":-56.25,"v":0.55},{"x":213,"y":-56.25,"v":0.4},{"x":220.5,"y":-56.25,"v":0.25},{"x":228,"y":-56.25,"v":0.15},{"x":235.5,"y":-56.25,"v":0.1},{"x":243,"y":-56.25,"v":0.05},{"x":250.5,"y":-56.25,"v":0},{"x":258,"y":-56.25,"v":-0.05},{"x":265.5,"y":-56.25,"v":-0.1},{"x":273,"y":-56.25,"v":-0.1},{"x":280.5,"y":-56.25,"v":-0.1},{"x":288,"y":-56.25,"v":-0.1},{"x":295.5,"y":-56.25,"v":-0.15},{"x":303,"y":-56.25,"v":-0.15},{"x":310.5,"y":-56.25,"v":-0.2},{"x":318,"y":-56.25,"v":-0.3},{"x":325.5,"y":-56.25,"v":-0.35},{"x":333,"y":-56.25,"v":-0.4},{"x":340.5,"y":-56.25,"v":-0.5},{"x":348,"y":-56.25,"v":-0.55},{"x":355.5,"y":-56.25,"v":-0.6},
{"x":3,"y":-63.75,"v":-0.6},{"x":10.5,"y":-63.75,"v":-0.65},{"x":18,"y":-63.75,"v":-0.65},{"x":25.5,"y":-63.75,"v":-0.65},{"x":33,"y":-63.75,"v":-0.65},{"x":40.5,"y":-63.75,"v":-0.65},{"x":48,"y":-63.75,"v":-0.6},{"x":55.5,"y":-63.75,"v":-0.55},{"x":63,"y":-63.75,"v":-0.5},{"x":70.5,"y":-63.75,"v":-0.45},{"x":78,"y":-63.75,"v":-0.35},{"x":85.5,"y":-63.75,"v":-0.25},{"x":93,"y":-63.75,"v":-0.15},{"x":100.5,"y":-63.75,"v":-0.05},{"x":108,"y":-63.75,"v":0.05},{"x":115.5,"y":-63.75,"v":0.2},{"x":123,"y":-63.75,"v":0.35},{"x":130.5,"y":-63.75,"v":0.5},{"x":138,"y":-63.75,"v":0.7},{"x":145.5,"y":-63.75,"v":1.15},{"x":153,"y":-63.75,"v":1.35},{"x":160.5,"y":-63.75,"v":1.45},{"x":168,"y":-63.75,"v":1.45},{"x":175.5,"y":-63.75,"v":1.4},{"x":183,"y":-63.75,"v":1.25},{"x":190.5,"y":-63.75,"v":1.05},{"x":198,"y":-63.75,"v":0.95},{"x":205.5,"y":-63.75,"v":0.8},{"x":213,"y":-63.75,"v":0.65},{"x":220.5,"y":-63.75,"v":0.5},{"x":228,"y":-63.75,"v":0.4},{"x":235.5,"y":-63.75,"v":0.3},{"x":243,"y":-63.75,"v":0.25},{"x":250.5,"y":-63.75,"v":0.15},{"x":258,"y":-63.75,"v":0.05},{"x":265.5,"y":-63.75,"v":0},{"x":273,"y":-63.75,"v":0},{"x":280.5,"y":-63.75,"v":0},{"x":288,"y":-63.75,"v":0},{"x":295.5,"y":-63.75,"v":-0.05},{"x":303,"y":-63.75,"v":-0.1},{"x":310.5,"y":-63.75,"v":-0.15},{"x":318,"y":-63.75,"v":-0.2},{"x":325.5,"y":-63.75,"v":-0.3},{"x":333,"y":-63.75,"v":-0.4},{"x":340.5,"y":-63.75,"v":-0.5},{"x":348,"y":-63.75,"v":-0.6},{"x":355.5,"y":-63.75,"v":-0.65},
{"x":3,"y":-71.25,"v":-0.4},{"x":10.5,"y":-71.25,"v":-0.45},{"x":18,"y":-71.25,"v":-0.45},{"x":25.5,"y":-71.25,"v":-0.4},{"x":33,"y":-71.25,"v":-0.4},{"x":40.5,"y":-71.25,"v":-0.35},{"x":48,"y":-71.25,"v":-0.3},{"x":55.5,"y":-71.25,"v":-0.3},{"x":63,"y":-71.25,"v":-0.2},{"x":70.5,"y":-71.25,"v":-0.15},{"x":78,"y":-71.25,"v":-0.05},{"x":85.5,"y":-71.25,"v":0},{"x":93,"y":-71.25,"v":0.1},{"x":100.5,"y":-71.25,"v":0.15},{"x":108,"y":-71.25,"v":0.25},{"x":115.5,"y":-71.25,"v":0.35},{"x":123,"y":-71.25,"v":0.45},{"x":130.5,"y":-71.25,"v":0.6},{"x":138,"y":-71.25,"v":0.7},{"x":145.5,"y":-71.25,"v":1.1},{"x":153,"y":-71.25,"v":1.2},{"x":160.5,"y":-71.25,"v":1.25},{"x":168,"y":-71.25,"v":1.25},{"x":175.5,"y":-71.25,"v":1.2},{"x":183,"y":-71.25,"v":1.1},{"x":190.5,"y":-71.25,"v":0.95},{"x":198,"y":-71.25,"v":0.9},{"x":205.5,"y":-71.25,"v":0.85},{"x":213,"y":-71.25,"v":0.8},{"x":220.5,"y":-71.25,"v":0.7},{"x":228,"y":-71.25,"v":0.65},{"x":235.5,"y":-71.25,"v":0.6},{"x":243,"y":-71.25,"v":0.5},{"x":250.5,"y":-71.25,"v":0.4},{"x":258,"y":-71.25,"v":0.3},{"x":265.5,"y":-71.25,"v":0.2},{"x":273,"y":-71.25,"v":0.2},{"x":280.5,"y":-71.25,"v":0.15},{"x":288,"y":-71.25,"v":0.1},{"x":295.5,"y":-71.25,"v":0.05},{"x":303,"y":-71.25,"v":0},{"x":310.5,"y":-71.25,"v":-0.05},{"x":318,"y":-71.25,"v":-0.1},{"x":325.5,"y":-71.25,"v":-0.2},{"x":333,"y":-71.25,"v":-0.3},{"x":340.5,"y":-71.25,"v":-0.35},{"x":348,"y":-71.25,"v":-0.45},{"x":355.5,"y":-71.25,"v":-0.5},
{"x":3,"y":-78.75,"v":-0.15},{"x":10.5,"y":-78.75,"v":-0.15},{"x":18,"y":-78.75,"v":-0.1},{"x":25.5,"y":-78.75,"v":-0.05},{"x":33,"y":-78.75,"v":0},{"x":40.5,"y":-78.75,"v":0},{"x":48,"y":-78.75,"v":0.05},{"x":55.5,"y":-78.75,"v":0.1},{"x":63,"y":-78.75,"v":0.15},{"x":70.5,"y":-78.75,"v":0.2},{"x":78,"y":-78.75,"v":0.25},{"x":85.5,"y":-78.75,"v":0.3},{"x":93,"y":-78.75,"v":0.35},{"x":100.5,"y":-78.75,"v":0.4},{"x":108,"y":-78.75,"v":0.45},{"x":115.5,"y":-78.75,"v":0.5},{"x":123,"y":-78.75,"v":0.55},{"x":130.5,"y":-78.75,"v":0.65},{"x":138,"y":-78.75,"v":0.7},{"x":145.5,"y":-78.75,"v":0.9},{"x":153,"y":-78.75,"v":0.95},{"x":160.5,"y":-78.75,"v":1},{"x":168,"y":-78.75,"v":1},{"x":175.5,"y":-78.75,"v":0.95},{"x":183,"y":-78.75,"v":0.9},{"x":190.5,"y":-78.75,"v":0.85},{"x":198,"y":-78.75,"v":0.8},{"x":205.5,"y":-78.75,"v":0.8},{"x":213,"y":-78.75,"v":0.75},{"x":220.5,"y":-78.75,"v":0.7},{"x":228,"y":-78.75,"v":0.7},{"x":235.5,"y":-78.75,"v":0.65},{"x":243,"y":-78.75,"v":0.6},{"x":250.5,"y":-78.75,"v":0.55},{"x":258,"y":-78.75,"v":0.5},{"x":265.5,"y":-78.75,"v":0.45},{"x":273,"y":-78.75,"v":0.4},{"x":280.5,"y":-78.75,"v":0.35},{"x":288,"y":-78.75,"v":0.3},{"x":295.5,"y":-78.75,"v":0.3},{"x":303,"y":-78.75,"v":0.25},{"x":310.5,"y":-78.75,"v":0.2},{"x":318,"y":-78.75,"v":0.15},{"x":325.5,"y":-78.75,"v":0.1},{"x":333,"y":-78.75,"v":0},{"x":340.5,"y":-78.75,"v":-0.05},{"x":348,"y":-78.75,"v":-0.1},{"x":355.5,"y":-78.75,"v":-0.15},
{"x":3,"y":-86.25,"v":0.2},{"x":10.5,"y":-86.25,"v":0.2},{"x":18,"y":-86.25,"v":0.2},{"x":25.5,"y":-86.25,"v":0.2},{"x":33,"y":-86.25,"v":0.2},{"x":40.5,"y":-86.25,"v":0.2},{"x":48,"y":-86.25,"v":0.25},{"x":55.5,"y":-86.25,"v":0.25},{"x":63,"y":-86.25,"v":0.3},{"x":70.5,"y":-86.25,"v":0.3},{"x":78,"y":-86.25,"v":0.3},{"x":85.5,"y":-86.25,"v":0.35},{"x":93,"y":-86.25,"v":0.35},{"x":100.5,"y":-86.25,"v":0.4},{"x":108,"y":-86.25,"v":0.4},{"x":115.5,"y":-86.25,"v":0.45},{"x":123,"y":-86.25,"v":0.45},{"x":130.5,"y":-86.25,"v":0.5},{"x":138,"y":-86.25,"v":0.5},{"x":145.5,"y":-86.25,"v":0.6},{"x":153,"y":-86.25,"v":0.65},{"x":160.5,"y":-86.25,"v":0.65},{"x":168,"y":-86.25,"v":0.7},{"x":175.5,"y":-86.25,"v":0.7},{"x":183,"y":-86.25,"v":0.7},{"x":190.5,"y":-86.25,"v":0.7},{"x":198,"y":-86.25,"v":0.7},{"x":205.5,"y":-86.25,"v":0.7},{"x":213,"y":-86.25,"v":0.7},{"x":220.5,"y":-86.25,"v":0.65},{"x":228,"y":-86.25,"v":0.65},{"x":235.5,"y":-86.25,"v":0.65},{"x":243,"y":-86.25,"v":0.6},{"x":250.5,"y":-86.25,"v":0.6},{"x":258,"y":-86.25,"v":0.55},{"x":265.5,"y":-86.25,"v":0.55},{"x":273,"y":-86.25,"v":0.5},{"x":280.5,"y":-86.25,"v":0.5},{"x":288,"y":-86.25,"v":0.5},{"x":295.5,"y":-86.25,"v":0.45},{"x":303,"y":-86.25,"v":0.45},{"x":310.5,"y":-86.25,"v":0.45},{"x":318,"y":-86.25,"v":0.4},{"x":325.5,"y":-86.25,"v":0.35},{"x":333,"y":-86.25,"v":0.3},{"x":340.5,"y":-86.25,"v":0.3},{"x":348,"y":-86.25,"v":0.25},{"x":355.5,"y":-86.25,"v":0.2}
]},"mark":{"type":"rect","width":20.9,"height":20.9,"clip":true},"encoding":{"x":{"field":"x","type":"quantitative","scale":{"domain":[-1,359],"nice":false,"zero":false},"axis":{"title":null,"values":[0,60,120,180,240,300],"labelExpr":"datum.value + '°E'","labelFont":"Liberation Sans","labelFontSize":18,"labelColor":"black","labelPadding":8,"tickSize":11,"tickWidth":1.3,"tickColor":"#333","domain":false,"grid":false,"labelFlush":false}},"y":{"field":"y","type":"quantitative","scale":{"domain":[-89.65,89.65],"nice":false,"zero":false},"axis":{"title":null,"values":[-60,-30,0,30,60],"labelExpr":"datum.value + '°N'","labelFont":"Liberation Sans","labelFontSize":18,"labelColor":"black","labelPadding":10,"tickSize":11,"tickWidth":1.3,"tickColor":"#333","domain":false,"grid":false}},"color":{"field":"v","type":"quantitative","scale":{"scheme":"viridis","domain":[-3.15,3.8]},"legend":null}}},{"data":{"values":[{"x":-1,"x2":359,"y":-89.65,"y2":89.65}]},"mark":{"type":"rect","fill":null,"stroke":"black","strokeWidth":2.4},"encoding":{"x":{"field":"x","type":"quantitative"},"x2":{"field":"x2"},"y":{"field":"y","type":"quantitative"},"y2":{"field":"y2"}}}]},{"width":25,"height":490,"layer":[{"data":{"values":[{"v":-3.15},{"v":-3.1},{"v":-3.05},{"v":-3},{"v":-2.95},{"v":-2.9},{"v":-2.85},{"v":-2.8},{"v":-2.75},{"v":-2.7},{"v":-2.65},{"v":-2.6},{"v":-2.55},{"v":-2.5},{"v":-2.45},{"v":-2.4},{"v":-2.35},{"v":-2.3},{"v":-2.25},{"v":-2.2},{"v":-2.15},{"v":-2.1},{"v":-2.05},{"v":-2},{"v":-1.95},{"v":-1.9},{"v":-1.85},{"v":-1.8},{"v":-1.75},{"v":-1.7},{"v":-1.65},{"v":-1.6},{"v":-1.55},{"v":-1.5},{"v":-1.45},{"v":-1.4},{"v":-1.35},{"v":-1.3},{"v":-1.25},{"v":-1.2},{"v":-1.15},{"v":-1.1},{"v":-1.05},{"v":-1},{"v":-0.95},{"v":-0.9},{"v":-0.85},{"v":-0.8},{"v":-0.75},{"v":-0.7},{"v":-0.65},{"v":-0.6},{"v":-0.55},{"v":-0.5},{"v":-0.45},{"v":-0.4},{"v":-0.35},{"v":-0.3},{"v":-0.25},{"v":-0.2},{"v":-0.15},{"v":-0.1},{"v":-0.05},{"v":0},{"v":0.05},{"v":0.1},{"v":0.15},{"v":0.2},{"v":0.25},{"v":0.3},{"v":0.35},{"v":0.4},{"v":0.45},{"v":0.5},{"v":0.55},{"v":0.6},{"v":0.65},{"v":0.7},{"v":0.75},{"v":0.8},{"v":0.85},{"v":0.9},{"v":0.95},{"v":1},{"v":1.05},{"v":1.1},{"v":1.15},{"v":1.2},{"v":1.25},{"v":1.3},{"v":1.35},{"v":1.4},{"v":1.45},{"v":1.5},{"v":1.55},{"v":1.6},{"v":1.65},{"v":1.7},{"v":1.75},{"v":1.8},{"v":1.85},{"v":1.9},{"v":1.95},{"v":2},{"v":2.05},{"v":2.1},{"v":2.15},{"v":2.2},{"v":2.25},{"v":2.3},{"v":2.35},{"v":2.4},{"v":2.45},{"v":2.5},{"v":2.55},{"v":2.6},{"v":2.65},{"v":2.7},{"v":2.75},{"v":2.8},{"v":2.85},{"v":2.9},{"v":2.95},{"v":3},{"v":3.05},{"v":3.1},{"v":3.15},{"v":3.2},{"v":3.25},{"v":3.3},{"v":3.35},{"v":3.4},{"v":3.45},{"v":3.5},{"v":3.55},{"v":3.6},{"v":3.65},{"v":3.7},{"v":3.75},{"v":3.8}]},"mark":{"type":"rect","height":4.2,"clip":true},"encoding":{"y":{"field":"v","type":"quantitative","scale":{"domain":[-3.15,3.8],"nice":false,"zero":false},"axis":{"title":null,"orient":"right","values":[-2,0,2],"labelExpr":"replace(format(datum.value, 'd'), '-', '−')","labelFont":"Liberation Sans","labelFontSize":18,"labelColor":"black","labelPadding":6,"tickSize":11,"tickWidth":1.3,"tickColor":"#333","domain":false,"grid":false}},"color":{"field":"v","type":"quantitative","scale":{"scheme":"viridis","domain":[-3.15,3.8]},"legend":null}}},{"data":{"values":[{"a":-3.15,"b":3.8}]},"mark":{"type":"rect","fill":null,"stroke":"black","strokeWidth":2.4},"encoding":{"y":{"field":"a","type":"quantitative"},"y2":{"field":"b"}}}]}],"resolve":{"scale":{"x":"independent","y":"independent"}}}
